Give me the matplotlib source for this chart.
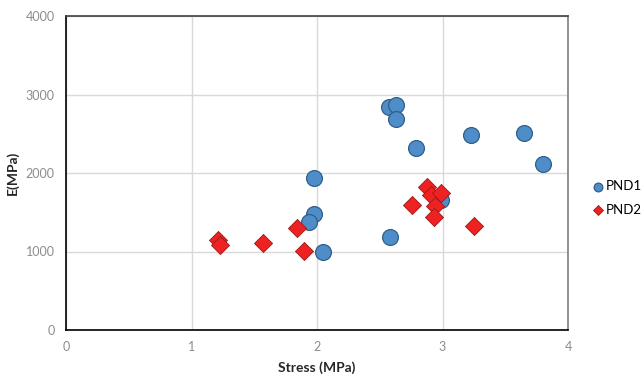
import matplotlib.pyplot as plt

# PND1 - blue circles
pnd1_stress = [2.57, 2.63, 2.63, 2.79, 3.23, 3.65, 3.80, 1.98, 1.98, 1.94, 2.05, 2.58, 2.99]
pnd1_e = [2846, 2863, 2693, 2313, 2483, 2505, 2121, 1930, 1474, 1371, 988, 1180, 1661]

# PND2 - red diamonds
pnd2_stress = [1.21, 1.23, 1.57, 1.84, 1.90, 2.76, 2.88, 2.91, 2.99, 2.94, 2.93, 3.25]
pnd2_e = [1150, 1086, 1108, 1300, 1001, 1594, 1823, 1717, 1747, 1585, 1440, 1320]

xticks = [0, 1, 2, 3, 4]
yticks = [0, 1000, 2000, 3000, 4000]

plt.rcParams['font.family'] = ['Lato', 'DejaVu Sans']

fig = plt.figure(figsize=(6.42, 3.78), dpi=100)
ax = fig.add_axes([66 / 642, 48 / 378, 502 / 642, 314 / 378])

ax.scatter(pnd1_stress, pnd1_e, s=130, marker='o', facecolor='#4F8DC9',
           edgecolor='#2F5F8A', linewidth=0.9, zorder=3, label='PND1')
ax.scatter(pnd2_stress, pnd2_e, s=85, marker='D', facecolor='#EE2222',
           edgecolor='#9A1A1A', linewidth=0.6, zorder=4, label='PND2')

ax.set_xlim(0, 4)
ax.set_ylim(0, 4000)
ax.set_xticks(xticks)
ax.set_yticks(yticks)
ax.grid(True, color='#D9D9D9', linewidth=1.0, zorder=0)
ax.set_axisbelow(True)
ax.tick_params(length=0, labelsize=9, labelcolor='#8C8C8C', pad=8)

ax.spines['left'].set_color('black')
ax.spines['bottom'].set_color('black')
ax.spines['right'].set_color('#7F7F7F')
ax.spines['top'].set_color('#404040')
for s in ax.spines.values():
    s.set_linewidth(1.2)

ax.set_xlabel('Stress (MPa)', fontsize=10, fontweight='bold', color='#262626', labelpad=6)
ax.set_ylabel('E(MPa)', fontsize=10, fontweight='bold', color='#262626')
ax.yaxis.set_label_coords(-0.093, 0.5)

fig.legend(loc='center left', bbox_to_anchor=(590 / 642, 1 - 198 / 378), frameon=False,
           fontsize=9.5, markerscale=0.55, handletextpad=0.0, labelspacing=0.9,
           handlelength=1.2, borderaxespad=0, borderpad=0)

fig.savefig('out.png', dpi=100)
